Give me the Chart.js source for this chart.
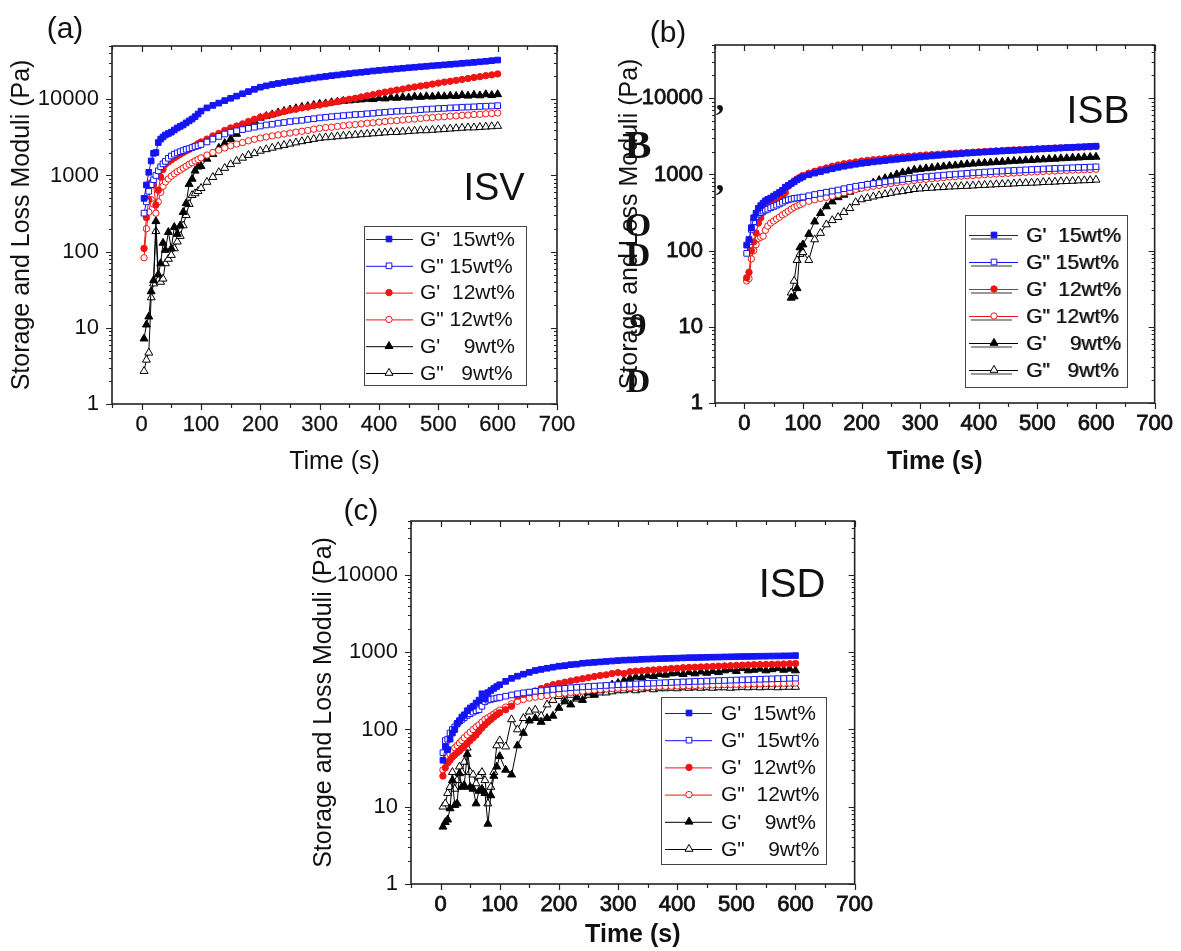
<!DOCTYPE html>
<html>
<head>
<meta charset="utf-8">
<script src="https://cdn.jsdelivr.net/npm/chart.js@4.4.1/dist/chart.umd.min.js"></script>
<style>
  body { margin: 0; background: #fff; width: 1181px; height: 951px; position: relative; overflow: hidden; }
  .panel { position: absolute; }
</style>
</head>
<body>
<div class="panel" style="left:0;top:0"><canvas id="chartA" width="590" height="480"></canvas></div>
<div class="panel" style="left:600px;top:0"><canvas id="chartB" width="581" height="480"></canvas></div>
<div class="panel" style="left:300px;top:490px"><canvas id="chartC" width="581" height="461"></canvas></div>
<script>
// time points (s), shared by every series
const time = [4, 8, 12, 16, 20, 24, 28, 32, 36, 40, 45, 50, 55, 60, 65, 70, 75, 80, 85, 90, 95, 100,
  110, 120, 130, 140, 150, 160, 170, 180, 190, 200,
  210, 220, 230, 240, 250, 260, 270, 280, 290, 300,
  310, 320, 330, 340, 350, 360, 370, 380, 390, 400,
  410, 420, 430, 440, 450, 460, 470, 480, 490, 500,
  510, 520, 530, 540, 550, 560, 570, 580, 590, 600];

const timeTicks = [0, 100, 200, 300, 400, 500, 600, 700];
const moduliTicks = [1, 10, 100, 1000, 10000];

// (a) ISV
const isvStore15 = [500, 750, 1100, 1550, 1950, 2000, 2700, 3000, 3200, 3400, 3550, 3700, 3950, 4200, 4400, 4600, 4900, 5200, 5500, 5900, 6400, 7000,
  7700, 8300, 8900, 9600, 10300, 11000, 11800, 12600, 13500, 14400,
  15000, 15600, 16100, 16600, 17100, 17500, 18000, 18500, 19000, 19500,
  19900, 20400, 20800, 21300, 21700, 22200, 22600, 23000, 23500, 23900,
  24300, 24700, 25100, 25500, 25900, 26300, 26700, 27100, 27500, 27900,
  28300, 28700, 29100, 29600, 30000, 30500, 31000, 31500, 32100, 32700];
const isvLoss15 = [320, 450, 620, 760, 880, 1000, 1150, 1300, 1420, 1530, 1680, 1800, 1900, 1980, 2050, 2120, 2200, 2250, 2320, 2400, 2450, 2550,
  2750, 3000, 3250, 3500, 3700, 3850, 4000, 4150, 4300, 4450,
  4600, 4700, 4850, 4950, 5100, 5200, 5300, 5450, 5550, 5700,
  5800, 5900, 6000, 6100, 6200, 6300, 6350, 6450, 6550, 6650,
  6750, 6850, 6950, 7000, 7100, 7200, 7300, 7400, 7450, 7550,
  7600, 7700, 7750, 7850, 7900, 7950, 8050, 8100, 8150, 8250];
const isvStore12 = [110, 280, 480, 800, 750, 410, 640, 950, 1200, 1400, 1500, 1600, 1700, 1800, 1900, 2000, 2100, 2200, 2350, 2450, 2600, 2750,
  3000, 3300, 3550, 3900, 4200, 4450, 4750, 5100, 5450, 5800,
  6050, 6300, 6600, 6900, 7200, 7400, 7700, 7900, 8200, 8400,
  8700, 9000, 9300, 9700, 10000, 10300, 10700, 11100, 11500, 12000,
  12400, 12800, 13200, 13600, 14100, 14500, 14900, 15300, 15800, 16300,
  16800, 17200, 17700, 18200, 18700, 19300, 19800, 20400, 20900, 21500];
const isvLoss12 = [83, 200, 330, 480, 420, 320, 450, 600, 720, 820, 900, 980, 1050, 1120, 1180, 1250, 1320, 1400, 1470, 1550, 1620, 1700,
  1850, 2000, 2150, 2300, 2450, 2580, 2700, 2850, 2980, 3100,
  3200, 3300, 3400, 3500, 3600, 3700, 3800, 3900, 4050, 4150,
  4250, 4300, 4400, 4500, 4600, 4650, 4750, 4850, 4900, 5000,
  5100, 5200, 5250, 5350, 5450, 5500, 5600, 5700, 5750, 5850,
  5900, 6000, 6050, 6150, 6200, 6300, 6350, 6450, 6500, 6600];
const isvStore9 = [7.2, 11, 14, 30, 42, 250, 50, 70, 130, 105, 180, 110, 210, 170, 220, 330, 430, 770, 900, 1150, 1300, 1320,
  1650, 1900, 2300, 2650, 3000, 3500, 4100, 4700, 5200, 5700,
  6000, 6300, 6700, 7000, 7300, 7600, 7900, 8100, 8400, 8700,
  8800, 9100, 9300, 9500, 9600, 9800, 9900, 10100, 10000, 10300,
  10200, 10500, 10400, 10600, 10500, 10800, 10700, 10900, 10800, 11000,
  10900, 11100, 11000, 11300, 11100, 11400, 11200, 11600, 11300, 11600];
const isvLoss9 = [2.7, 3.8, 4.7, 25, 38, 185, 42, 40, 44, 70, 80, 90, 110, 135, 160, 220, 300, 420, 550, 580, 620, 680,
  820, 950, 1100, 1250, 1400, 1550, 1700, 1850, 1950, 2100,
  2200, 2300, 2400, 2500, 2600, 2700, 2800, 2900, 3000, 3100,
  3150, 3200, 3250, 3300, 3350, 3400, 3450, 3500, 3550, 3600,
  3650, 3700, 3700, 3750, 3800, 3850, 3900, 3900, 3950, 4000,
  4050, 4100, 4150, 4200, 4250, 4250, 4300, 4350, 4400, 4450];

// (b) ISB
const isbStore15 = [118, 140, 200, 270, 310, 360, 390, 420, 450, 470, 490, 520, 550, 580, 620, 680, 720, 760, 800, 850, 890, 930,
  990, 1040, 1090, 1140, 1190, 1240, 1280, 1320, 1360, 1400,
  1430, 1460, 1490, 1520, 1550, 1580, 1610, 1640, 1670, 1700,
  1730, 1750, 1780, 1800, 1830, 1850, 1870, 1900, 1920, 1950,
  1970, 1990, 2010, 2030, 2050, 2070, 2090, 2110, 2130, 2150,
  2170, 2190, 2210, 2230, 2250, 2270, 2290, 2310, 2330, 2350];
const isbLoss15 = [92, 130, 190, 240, 280, 300, 315, 330, 340, 350, 365, 380, 395, 410, 430, 450, 465, 475, 485, 490, 495, 505,
  525, 545, 565, 585, 605, 625, 650, 675, 700, 720,
  740, 760, 780, 800, 820, 840, 860, 880, 900, 920,
  935, 950, 965, 980, 995, 1010, 1020, 1035, 1050, 1060,
  1075, 1085, 1100, 1110, 1120, 1130, 1140, 1150, 1160, 1170,
  1180, 1190, 1200, 1210, 1215, 1225, 1235, 1240, 1250, 1260];
const isbStore12 = [44, 52, 100, 130, 170, 230, 270, 320, 360, 380, 400, 420, 440, 470, 510, 580, 700, 760, 820, 870, 920, 970,
  1040, 1100, 1160, 1220, 1280, 1330, 1380, 1420, 1460, 1500,
  1530, 1560, 1590, 1620, 1650, 1680, 1700, 1730, 1750, 1780,
  1800, 1820, 1840, 1860, 1880, 1900, 1920, 1940, 1960, 1980,
  2000, 2020, 2040, 2060, 2080, 2100, 2110, 2130, 2150, 2170,
  2180, 2200, 2220, 2230, 2250, 2260, 2280, 2290, 2300, 2320];
const isbLoss12 = [40, 43, 78, 100, 120, 145, 150, 155, 185, 210, 230, 245, 260, 275, 295, 310, 330, 350, 370, 385, 400, 420,
  445, 465, 485, 500, 520, 545, 575, 605, 635, 660,
  680, 700, 720, 740, 760, 780, 800, 815, 835, 850,
  865, 880, 895, 910, 925, 935, 950, 960, 970, 980,
  995, 1005, 1015, 1025, 1035, 1045, 1055, 1065, 1075, 1085,
  1095, 1105, 1110, 1120, 1130, 1140, 1145, 1155, 1160, 1170];
const isbStore9 = [null, null, null, null, null, null, null, null, null, null, null, null, null, null, null, null, null, 24, 25, 32, 110, 120,
  165, 240, 310, 380, 440, 500, 540, 590, 640, 680,
  720, 780, 840, 890, 930, 1000, 1060, 1100, 1150, 1170,
  1200, 1220, 1250, 1270, 1300, 1310, 1340, 1360, 1380, 1400,
  1420, 1430, 1450, 1460, 1480, 1500, 1510, 1530, 1540, 1560,
  1570, 1590, 1600, 1620, 1630, 1650, 1660, 1680, 1690, 1700];
const isbLoss9 = [null, null, null, null, null, null, null, null, null, null, null, null, null, null, null, null, null, 28, 40, 75, 90, 95,
  75, 140, 170, 220, 250, 275, 320, 360, 430, 470,
  490, 510, 530, 550, 570, 590, 600, 620, 640, 650,
  660, 665, 675, 680, 690, 695, 700, 705, 712, 720,
  725, 732, 740, 745, 750, 758, 765, 770, 775, 780,
  790, 795, 800, 810, 815, 820, 830, 835, 840, 850];

// (c) ISD
const isdStore15 = [40, 60, 55, 75, 90, 100, 120, 130, 145, 155, 175, 190, 200, 220, 240, 290, 250, 300, 320, 340, 360, 380,
  420, 460, 490, 520, 550, 580, 600, 620, 640, 660,
  670, 690, 700, 720, 730, 740, 750, 760, 770, 780,
  790, 795, 800, 810, 815, 820, 825, 830, 835, 840,
  845, 850, 852, 856, 860, 863, 866, 870, 873, 876,
  880, 882, 885, 888, 890, 893, 895, 898, 900, 905];
const isdLoss15 = [50, 72, 75, 90, 100, 108, 118, 128, 135, 142, 152, 160, 168, 175, 180, 200, 230, 240, 245, 250, 255, 260,
  270, 280, 290, 298, 305, 312, 318, 324, 330, 336,
  342, 347, 352, 356, 360, 364, 368, 372, 376, 380,
  383, 386, 389, 392, 395, 398, 401, 404, 407, 410,
  413, 416, 419, 421, 424, 427, 430, 432, 435, 437,
  440, 442, 445, 447, 450, 452, 455, 457, 460, 462];
const isdStore12 = [25, 32, 37, 40, 44, 47, 50, 53, 57, 61, 66, 72, 78, 85, 95, 105, 115, 125, 135, 145, 155, 165,
  180, 200, 270, 285, 300, 315, 340, 360, 380, 395,
  410, 425, 440, 455, 470, 485, 500, 510, 530, 545,
  530, 560, 570, 575, 585, 590, 600, 605, 615, 620,
  630, 635, 640, 645, 650, 655, 660, 665, 670, 675,
  680, 685, 690, 692, 695, 698, 700, 705, 710, 715];
const isdLoss12 = [30, 40, 45, 48, 52, 58, 62, 67, 72, 78, 85, 92, 100, 108, 115, 125, 135, 142, 150, 158, 168, 178,
  195, 215, 232, 245, 255, 262, 268, 275, 282, 290,
  296, 302, 308, 314, 320, 325, 330, 334, 338, 342,
  345, 348, 351, 354, 356, 358, 360, 362, 364, 366,
  368, 370, 372, 374, 376, 378, 379, 381, 383, 385,
  386, 388, 390, 391, 393, 394, 396, 397, 399, 400];
const isdStore9 = [5.5, 6.3, 6.8, 9.5, 22, 10.5, 11, 27, 18, 19, 48, 18, 17, 11, 16, 17, 15, 6, 14, 25, 33, 45,
  30, 26, 62, 90, 130, 140, 125, 140, 150, 190,
  230, 210, 260, 240, 300, 280, 320, 350, 380, 400,
  430, 460, 480, 470, 500, 490, 520, 510, 530, 540,
  520, 550, 530, 560, 540, 570, 550, 580, 600, 570,
  620, 580, 590, 610, 580, 600, 620, 590, 610, 580];
const isdLoss9 = [10, 11, 15, 18, 28, 17, 22, 33, 28, 38, 58, 28, 26, 20, 25, 28, 22, 11, 18, 28, 62, 72,
  60, 135, 100, 140, 170, 180, 150, 210, 240, 270,
  250, 280, 250, 270, 280, 290, 300, 300, 310, 320,
  320, 330, 320, 330, 340, 330, 340, 340, 345, 340,
  350, 345, 350, 345, 350, 345, 350, 350, 345, 350,
  355, 350, 355, 350, 355, 355, 350, 355, 355, 355];

const labelsAB = ["G'  15wt%", 'G" 15wt%', "G'  12wt%", 'G" 12wt%', "G'    9wt%", 'G"   9wt%'];
const labelsC = ["G'  15wt%", 'G"  15wt%', "G'  12wt%", 'G"  12wt%', "G'    9wt%", 'G"    9wt%'];

const FONT = "'Liberation Sans', Arial, sans-serif";
const SERIF = "'Liberation Serif', 'DejaVu Serif', serif";
const BLUE = '#1414f5', RED = '#f01414', BLACK = '#000';
const seriesStyles = [
  { color: BLUE, shape: 'rect', r: 4, filled: true },
  { color: BLUE, shape: 'rect', r: 4, filled: false },
  { color: RED, shape: 'circle', r: 3.2, filled: true },
  { color: RED, shape: 'circle', r: 3.2, filled: false },
  { color: BLACK, shape: 'triangle', r: 4.6, filled: true },
  { color: BLACK, shape: 'triangle', r: 4.6, filled: false }
];

function drawMarker(ctx, st, x, y) {
  const r = st.r;
  ctx.beginPath();
  if (st.shape === 'rect') {
    const s = r * Math.SQRT1_2;
    ctx.rect(x - s, y - s, 2 * s, 2 * s);
  } else if (st.shape === 'circle') {
    ctx.arc(x, y, r, 0, Math.PI * 2);
  } else {
    ctx.moveTo(x, y - r);
    ctx.lineTo(x + r * 0.866, y + r * 0.5);
    ctx.lineTo(x - r * 0.866, y + r * 0.5);
    ctx.closePath();
  }
  ctx.fillStyle = st.filled ? st.color : '#fff';
  ctx.fill();
  ctx.lineWidth = 1;
  ctx.strokeStyle = st.color;
  ctx.stroke();
}

// border box and Origin-style ticks, drawn from the scales
const framePlugin = {
  id: 'frame',
  afterDatasetsDraw(chart) {
    const { ctx, chartArea: a, scales: { x, y } } = chart;
    ctx.save();
    ctx.strokeStyle = '#222';
    ctx.lineWidth = 1.6;
    ctx.strokeRect(a.left, a.top, a.right - a.left, a.bottom - a.top);
    ctx.lineWidth = 1.2;
    ctx.beginPath();
    for (let t = x.min; t <= x.max; t += 50) {
      const px = Math.round(x.getPixelForValue(t)) + 0.5;
      const len = t % 100 === 0 ? 6 : 4;
      ctx.moveTo(px, a.bottom); ctx.lineTo(px, a.bottom + len);
      ctx.moveTo(px, a.top); ctx.lineTo(px, a.top + len);
    }
    for (let dec = 1; dec <= 10000; dec *= 10) {
      for (let m = 1; m <= 9; m++) {
        const v = dec * m;
        if (v > y.max) break;
        const py = Math.round(y.getPixelForValue(v)) + 0.5;
        const len = m === 1 ? 6 : 3;
        ctx.moveTo(a.left, py); ctx.lineTo(a.left - len, py);
        ctx.moveTo(a.right, py); ctx.lineTo(a.right - len, py);
      }
    }
    ctx.stroke();
    ctx.restore();
  }
};

// panel letter, sample name, the boxed legend and stray glyphs
const decorPlugin = {
  id: 'decor',
  afterDraw(chart, args, o) {
    const ctx = chart.ctx;
    ctx.save();
    ctx.fillStyle = '#111';
    ctx.textBaseline = 'middle';
    ctx.textAlign = 'center';
    ctx.font = `30px ${FONT}`;
    ctx.fillText(o.letter, o.letterPos[0], o.letterPos[1]);
    ctx.textBaseline = 'alphabetic';
    ctx.font = `${o.nameSize}px ${FONT}`;
    ctx.fillText(o.name, o.namePos[0], o.namePos[1]);

    (o.glyphs || []).forEach(g => {
      ctx.font = `bold ${g[3]}px ${SERIF}`;
      ctx.fillText(g[0], g[1], g[2]);
    });

    const lg = o.legend;
    ctx.strokeStyle = '#444';
    ctx.lineWidth = 1;
    ctx.strokeRect(lg.box[0] + 0.5, lg.box[1] + 0.5, lg.box[2] - lg.box[0], lg.box[3] - lg.box[1]);
    ctx.font = `21px ${FONT}`;
    ctx.textAlign = 'left';
    ctx.textBaseline = 'middle';
    o.labels.forEach((txt, i) => {
      const st = seriesStyles[i];
      const yy = lg.row0 + i * lg.step;
      if (lg.ghost) {
        ctx.strokeStyle = '#333';
        ctx.beginPath();
        ctx.moveTo(lg.line[0] + 2, yy + 4); ctx.lineTo(lg.line[1] - 6, yy + 4);
        ctx.stroke();
      }
      ctx.strokeStyle = st.color;
      ctx.beginPath();
      ctx.moveTo(lg.line[0], yy + 0.5); ctx.lineTo(lg.line[1], yy + 0.5);
      ctx.stroke();
      drawMarker(ctx, st, lg.marker, yy);
      ctx.fillStyle = '#111';
      ctx.fillText(txt, lg.text, yy + 1);
      if (lg.ghost) {
        ctx.globalAlpha = 0.55;
        ctx.fillText(txt, lg.text + 1, yy + 1);
        ctx.globalAlpha = 1;
      }
    });
    ctx.restore();
  }
};

function makePanel(id, series, p) {
  const datasets = series.map((vals, i) => {
    const st = seriesStyles[i];
    return {
      label: p.labels[i],
      data: time.map((t, j) => ({ x: t, y: vals[j] })).filter(pt => pt.y !== null),
      showLine: true,
      borderColor: st.color,
      borderWidth: 1,
      pointStyle: st.shape,
      pointRadius: st.r,
      pointBackgroundColor: st.filled ? st.color : '#fff',
      pointBorderColor: st.color,
      pointBorderWidth: 1
    };
  });
  return new Chart(document.getElementById(id), {
    type: 'scatter',
    data: { datasets },
    plugins: [framePlugin, decorPlugin],
    options: {
      responsive: false,
      devicePixelRatio: 1,
      animation: false,
      events: [],
      layout: { padding: { left: 0, top: p.padTop, right: p.padRight, bottom: 0 } },
      plugins: {
        legend: { display: false },
        tooltip: { enabled: false },
        decor: p.decor
      },
      scales: {
        x: {
          type: 'linear', min: -50, max: 700,
          afterBuildTicks: s => { s.ticks = timeTicks.map(v => ({ value: v })); },
          afterFit: s => { s.height = p.xHeight; },
          grid: { display: false, drawTicks: false },
          border: { display: false },
          ticks: { color: '#111', padding: 8, maxRotation: 0, autoSkip: false,
                   textStrokeColor: '#111', textStrokeWidth: p.xStroke,
                   font: { family: FONT, size: 22 } },
          title: { display: true, text: 'Time (s)', color: '#111', padding: { top: 0, bottom: p.xTitlePad },
                   font: { family: FONT, size: 25, weight: p.boldX ? 'bold' : 'normal' } }
        },
        y: {
          type: 'logarithmic', min: 1, max: 50000,
          afterBuildTicks: s => { s.ticks = moduliTicks.map(v => ({ value: v })); },
          afterFit: s => { s.width = p.yWidth; },
          grid: { display: false, drawTicks: false },
          border: { display: false },
          ticks: { color: '#111', padding: p.yTickPad, callback: v => String(v),
                   textStrokeColor: '#111', textStrokeWidth: p.yStroke,
                   font: { family: FONT, size: 22 } },
          title: { display: true, text: 'Storage and Loss Moduli (Pa)', color: '#111',
                   padding: { top: p.yTitlePad, bottom: 0 }, font: { family: FONT, size: 25 } }
        }
      }
    }
  });
}

makePanel('chartA', [isvStore15, isvLoss15, isvStore12, isvLoss12, isvStore9, isvLoss9], {
  labels: labelsAB, padTop: 46, padRight: 33, xHeight: 76, yWidth: 112, yTickPad: 13,
  xTitlePad: 3, yTitlePad: 7, boldX: false, xStroke: 0.3, yStroke: 0,
  decor: {
    letter: '(a)', letterPos: [65, 30], name: 'ISV', nameSize: 38, namePos: [494, 200],
    labels: labelsAB,
    legend: { box: [364, 226, 526, 385], row0: 239, step: 26.8, line: [366, 413], marker: 389, text: 420 }
  }
});

makePanel('chartB', [isbStore15, isbLoss15, isbStore12, isbLoss12, isbStore9, isbLoss9], {
  labels: labelsAB, padTop: 45, padRight: 21, xHeight: 77, yWidth: 115, yTickPad: 12,
  xTitlePad: 3, yTitlePad: 15, boldX: true, xStroke: 0.8, yStroke: 0.8,
  decor: {
    letter: '(b)', letterPos: [68, 34], name: 'ISB', nameSize: 39, namePos: [498, 123],
    labels: labelsAB,
    glyphs: [[',', 120, 110, 34], [',', 120, 190, 34], ['B', 38, 158, 40], ['O', 38, 236, 34],
             ['D', 38, 266, 34], ['9', 38, 336, 34], ['D', 38, 392, 34]],
    legend: { box: [365, 215, 527, 387], row0: 235, step: 27, line: [369, 418], marker: 394, text: 426, ghost: true }
  }
});

makePanel('chartC', [isdStore15, isdLoss15, isdStore12, isdLoss12, isdStore9, isdLoss9], {
  labels: labelsC, padTop: 31, padRight: 24, xHeight: 67, yWidth: 111, yTickPad: 13,
  xTitlePad: 1, yTitlePad: 9, boldX: true, xStroke: 0.8, yStroke: 0,
  decor: {
    letter: '(c)', letterPos: [61, 22], name: 'ISD', nameSize: 40, namePos: [492, 107],
    labels: labelsC,
    legend: { box: [361, 207, 526, 374], row0: 223, step: 27.2, line: [365, 412], marker: 389, text: 421 }
  }
});
</script>
</body>
</html>
